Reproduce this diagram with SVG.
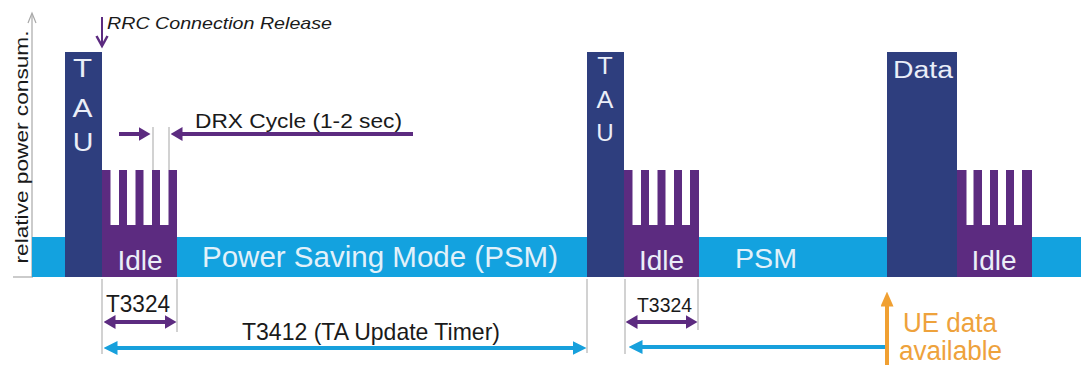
<svg xmlns="http://www.w3.org/2000/svg" width="1081" height="365" viewBox="0 0 1081 365">
<style>
.t{font-family:"Liberation Sans",Arial,sans-serif}
.dk{fill:#2e3e7e}
.pu{fill:#5c2b80}
.wh{fill:#ffffff}
.lbl{fill:#eaeef8}
.blk{fill:#1a1a1a}
.guide{stroke:#b4b4b4;stroke-width:1.2;fill:none}
.pa{stroke:#5c2b80;stroke-width:4;fill:none}
.ba{stroke:#17a0dc;stroke-width:4;fill:none}
.oa{stroke:#f0a032;stroke-width:4;fill:none}
</style>
<defs>
<marker id="mp" viewBox="0 0 12 14" refX="0.5" refY="7" markerWidth="12" markerHeight="14" markerUnits="userSpaceOnUse" orient="auto-start-reverse"><path d="M0,0 L12,7 L0,14 z" fill="#5c2b80"/></marker>
<marker id="mb" viewBox="0 0 14 14" refX="0.5" refY="7" markerWidth="14" markerHeight="14" markerUnits="userSpaceOnUse" orient="auto-start-reverse"><path d="M0,0 L14,7 L0,14 z" fill="#17a0dc"/></marker>
<marker id="mo" viewBox="0 0 15 13" refX="0.5" refY="6.5" markerWidth="15" markerHeight="13" markerUnits="userSpaceOnUse" orient="auto-start-reverse"><path d="M0,0 L15,6.5 L0,13 z" fill="#f0a032"/></marker>
</defs>

<g id="axis">
<line x1="32" y1="277" x2="32" y2="14" stroke="#a8a8a8" stroke-width="1.2"/>
<polyline points="28,23 32,13 36,23" fill="none" stroke="#a8a8a8" stroke-width="1.2"/>
<line x1="13" y1="277" x2="33" y2="277" stroke="#a8a8a8" stroke-width="1.2"/>
<text class="t blk" transform="translate(28,147) rotate(-90)" text-anchor="middle" font-size="18.5" textLength="233" lengthAdjust="spacingAndGlyphs">relative power consum.</text>
</g>

<g id="psm-band">
<rect x="32" y="237" width="1049" height="40" fill="#13a2df"/>
<text class="t" x="202" y="267" font-size="29" fill="#e2f1fa" textLength="356" lengthAdjust="spacingAndGlyphs">Power Saving Mode (PSM)</text>
<text class="t" x="735" y="268" font-size="28" fill="#e2f1fa" textLength="62" lengthAdjust="spacingAndGlyphs">PSM</text>
</g>

<g id="tau1">
<rect class="dk" x="65" y="52" width="37" height="225"/>
<text class="t lbl" transform="translate(82.5,77) scale(1.2,1)" font-size="26" text-anchor="middle">T</text>
<text class="t lbl" transform="translate(82.5,117) scale(1.15,1)" font-size="26" text-anchor="middle">A</text>
<text class="t lbl" transform="translate(83,151) scale(1.1,1)" font-size="26" text-anchor="middle">U</text>
</g>

<g id="idle1">
<rect class="pu" x="102" y="170" width="75" height="107"/>
<rect class="wh" x="110.5" y="170" width="8.5" height="55"/>
<rect class="wh" x="127" y="170" width="8.5" height="55"/>
<rect class="wh" x="143.5" y="170" width="8.5" height="55"/>
<rect class="wh" x="160" y="170" width="8.5" height="55"/>
<text class="t lbl" x="140" y="270" font-size="28" text-anchor="middle">Idle</text>
</g>

<g id="tau2">
<rect class="dk" x="587" y="52" width="37" height="225"/>
<text class="t lbl" transform="translate(605,74) scale(1.1,1)" font-size="23" text-anchor="middle">T</text>
<text class="t lbl" transform="translate(605,108) scale(1.1,1)" font-size="23" text-anchor="middle">A</text>
<text class="t lbl" transform="translate(605,141) scale(1.05,1)" font-size="23" text-anchor="middle">U</text>
</g>

<g id="idle2">
<rect class="pu" x="624" y="170" width="75" height="107"/>
<rect class="wh" x="632.5" y="170" width="8.5" height="55"/>
<rect class="wh" x="649" y="170" width="8.5" height="55"/>
<rect class="wh" x="665.5" y="170" width="8.5" height="55"/>
<rect class="wh" x="682" y="170" width="8" height="55"/>
<text class="t lbl" x="661.5" y="270" font-size="28" text-anchor="middle">Idle</text>
</g>

<g id="data">
<rect class="dk" x="887" y="52" width="70" height="225"/>
<text class="t lbl" x="893" y="78" font-size="23" textLength="60" lengthAdjust="spacingAndGlyphs">Data</text>
</g>

<g id="idle3">
<rect class="pu" x="957" y="170" width="75" height="107"/>
<rect class="wh" x="966.5" y="170" width="7" height="55"/>
<rect class="wh" x="982" y="170" width="8" height="55"/>
<rect class="wh" x="998" y="170" width="8" height="55"/>
<rect class="wh" x="1014" y="170" width="8" height="55"/>
<text class="t lbl" x="994" y="270" font-size="28" text-anchor="middle">Idle</text>
</g>

<g id="rrc-label">
<text class="t blk" x="107" y="29" font-size="16.5" font-style="italic" textLength="225" lengthAdjust="spacingAndGlyphs">RRC Connection Release</text>
</g>

<g id="drx-label">
<text class="t blk" x="195" y="128" font-size="19.5" textLength="207" lengthAdjust="spacingAndGlyphs">DRX Cycle (1-2 sec)</text>
</g>

<g id="timer-labels">
<text class="t blk" x="106" y="312" font-size="23" textLength="64" lengthAdjust="spacingAndGlyphs">T3324</text>
<text class="t blk" x="637" y="312" font-size="20" textLength="55" lengthAdjust="spacingAndGlyphs">T3324</text>
<text class="t blk" x="242" y="340" font-size="24" textLength="258" lengthAdjust="spacingAndGlyphs">T3412 (TA Update Timer)</text>
</g>

<g id="ue-data">
<text class="t" x="903" y="332" font-size="27" fill="#eea23c" textLength="94" lengthAdjust="spacingAndGlyphs">UE data</text>
<text class="t" x="899" y="360" font-size="27" fill="#eea23c" textLength="103" lengthAdjust="spacingAndGlyphs">available</text>
</g>

<g id="connectors">
<line class="guide" x1="153" y1="127" x2="153" y2="170"/>
<line class="guide" x1="169" y1="127" x2="169" y2="170"/>
<line class="guide" x1="102" y1="279" x2="102" y2="354"/>
<line class="guide" x1="177" y1="279" x2="177" y2="332"/>
<line class="guide" x1="587" y1="279" x2="587" y2="353"/>
<line class="guide" x1="625" y1="279" x2="625" y2="354"/>
<line class="guide" x1="698" y1="279" x2="698" y2="330"/>
<line x1="102" y1="17" x2="102" y2="45" stroke="#5c2b80" stroke-width="2"/>
<polyline points="96.5,36 102,46 107.5,36" fill="none" stroke="#5c2b80" stroke-width="2.5"/>
<line class="pa" x1="119" y1="134" x2="139" y2="134" marker-end="url(#mp)"/>
<line class="pa" x1="413" y1="134" x2="182" y2="134" marker-end="url(#mp)"/>
<line class="pa" x1="115" y1="322" x2="165" y2="322" marker-start="url(#mp)" marker-end="url(#mp)"/>
<line class="pa" x1="637" y1="322" x2="686" y2="322" marker-start="url(#mp)" marker-end="url(#mp)"/>
<line class="ba" x1="117" y1="348" x2="573" y2="348" marker-start="url(#mb)" marker-end="url(#mb)"/>
<line class="ba" x1="887" y1="347" x2="642" y2="347" marker-end="url(#mb)"/>
<line class="oa" x1="887" y1="365" x2="887" y2="306" marker-end="url(#mo)"/>
</g>
</svg>
